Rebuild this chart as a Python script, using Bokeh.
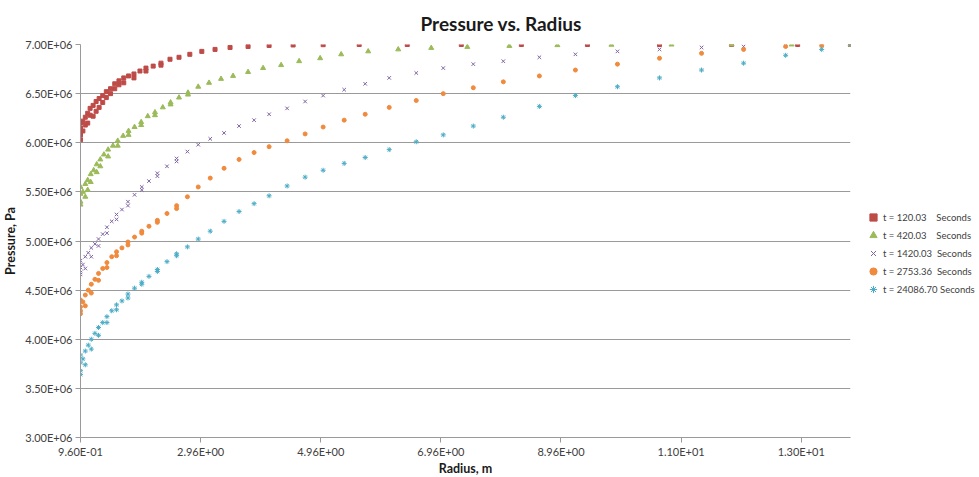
from bokeh.plotting import figure
from bokeh.models import FixedTicker, Legend, LegendItem, Range1d, Title
from bokeh.embed import file_html
from bokeh.resources import INLINE

# ---------------- data ----------------
series_names = ["t = 120.03\u00a0\u00a0\u00a0\u00a0Seconds",
                "t = 420.03\u00a0\u00a0\u00a0\u00a0Seconds",
                "t = 1420.03\u00a0\u00a0Seconds",
                "t = 2753.36\u00a0\u00a0Seconds",
                "t = 24086.70 Seconds"]

r_120 = [0.96, 0.96, 0.96, 0.96, 1.00, 1.00, 1.04, 1.04, 1.08, 1.08, 1.12, 1.12,
         1.17, 1.17, 1.22, 1.22, 1.27, 1.27, 1.33, 1.33, 1.39, 1.39, 1.46, 1.46,
         1.53, 1.53, 1.60, 1.60, 1.68, 1.68, 1.76, 1.85, 1.85, 1.95, 2.05, 2.05,
         2.17, 2.30, 2.30, 2.45, 2.60, 2.78, 2.98, 3.20, 3.45, 3.75, 4.10, 4.50,
         5.00, 5.60, 6.40, 7.30, 8.30, 9.40, 10.6, 11.8, 12.9, 13.78]
p_120 = [6.20e6, 6.08e6, 6.15e6, 6.03e6, 6.22e6, 6.12e6, 6.18e6, 6.26e6, 6.30e6, 6.20e6, 6.28e6, 6.35e6,
         6.38e6, 6.27e6, 6.32e6, 6.42e6, 6.45e6, 6.36e6, 6.48e6, 6.41e6, 6.52e6, 6.46e6, 6.55e6, 6.50e6,
         6.60e6, 6.55e6, 6.59e6, 6.63e6, 6.66e6, 6.61e6, 6.68e6, 6.70e6, 6.66e6, 6.73e6, 6.76e6, 6.73e6,
         6.78e6, 6.81e6, 6.79e6, 6.85e6, 6.87e6, 6.90e6, 6.93e6, 6.95e6, 6.97e6, 6.98e6, 6.99e6, 6.995e6,
         6.998e6, 7.0e6, 7.0e6, 7.0e6, 7.0e6, 7.0e6, 7.0e6, 7.0e6, 7.0e6, 7.0e6]

r_420 = [0.96, 0.96, 0.96, 0.96, 1.00, 1.04, 1.04, 1.08, 1.08, 1.13, 1.13, 1.18,
         1.23, 1.23, 1.29, 1.29, 1.35, 1.42, 1.42, 1.50, 1.58, 1.58, 1.67, 1.76,
         1.76, 1.86, 1.97, 1.97, 2.08, 2.20, 2.20, 2.33, 2.46, 2.46, 2.60, 2.75,
         2.75, 2.92, 3.10, 3.30, 3.50, 3.75, 4.00, 4.30, 4.60, 4.95, 5.30, 5.75,
         6.25, 6.80, 7.40, 8.10, 8.90, 9.80, 10.8, 11.8, 12.8, 13.78]
p_420 = [5.55e6, 5.40e6, 5.48e6, 5.37e6, 5.50e6, 5.58e6, 5.45e6, 5.62e6, 5.52e6, 5.68e6, 5.60e6, 5.72e6,
         5.78e6, 5.70e6, 5.83e6, 5.76e6, 5.88e6, 5.93e6, 5.86e6, 5.97e6, 6.02e6, 5.97e6, 6.07e6, 6.12e6,
         6.08e6, 6.16e6, 6.21e6, 6.18e6, 6.27e6, 6.31e6, 6.28e6, 6.36e6, 6.41e6, 6.39e6, 6.46e6, 6.51e6,
         6.49e6, 6.57e6, 6.61e6, 6.65e6, 6.68e6, 6.72e6, 6.76e6, 6.79e6, 6.83e6, 6.86e6, 6.90e6, 6.93e6,
         6.95e6, 6.965e6, 6.975e6, 6.985e6, 6.993e6, 6.997e6, 6.999e6, 7.0e6, 7.0e6, 7.0e6]

r_1420 = [0.96, 0.96, 0.96, 0.96, 1.00, 1.04, 1.04, 1.09, 1.14, 1.14, 1.20, 1.26,
          1.26, 1.33, 1.40, 1.40, 1.48, 1.56, 1.56, 1.65, 1.75, 1.75, 1.86, 1.98,
          1.98, 2.10, 2.24, 2.24, 2.40, 2.56, 2.56, 2.74, 2.92, 3.12, 3.35, 3.60,
          3.85, 4.10, 4.40, 4.70, 5.00, 5.35, 5.70, 6.10, 6.55, 7.00, 7.50, 8.00,
          8.60, 9.20, 9.90, 10.6, 11.3, 12.0, 12.7, 13.3, 13.78]
p_1420 = [4.80e6, 4.66e6, 4.73e6, 4.68e6, 4.76e6, 4.84e6, 4.72e6, 4.88e6, 4.93e6, 4.84e6, 4.97e6, 5.02e6,
          4.95e6, 5.07e6, 5.14e6, 5.08e6, 5.20e6, 5.27e6, 5.22e6, 5.32e6, 5.40e6, 5.36e6, 5.47e6, 5.55e6,
          5.52e6, 5.61e6, 5.69e6, 5.66e6, 5.76e6, 5.84e6, 5.81e6, 5.91e6, 5.98e6, 6.04e6, 6.10e6, 6.17e6,
          6.23e6, 6.29e6, 6.35e6, 6.42e6, 6.48e6, 6.54e6, 6.60e6, 6.66e6, 6.71e6, 6.76e6, 6.80e6, 6.83e6,
          6.87e6, 6.90e6, 6.93e6, 6.95e6, 6.97e6, 6.98e6, 6.99e6, 6.995e6, 7.0e6]

r_2753 = [0.96, 0.96, 0.96, 0.96, 1.00, 1.04, 1.04, 1.09, 1.14, 1.14, 1.20, 1.26,
          1.26, 1.33, 1.40, 1.40, 1.48, 1.56, 1.56, 1.65, 1.75, 1.75, 1.86, 1.98,
          1.98, 2.10, 2.24, 2.24, 2.40, 2.56, 2.56, 2.74, 2.92, 3.12, 3.35, 3.60,
          3.85, 4.10, 4.40, 4.70, 5.00, 5.35, 5.70, 6.10, 6.55, 7.00, 7.50, 8.00,
          8.60, 9.20, 9.90, 10.6, 11.3, 12.0, 12.7, 13.3, 13.78]
p_2753 = [4.40e6, 4.26e6, 4.33e6, 4.29e6, 4.38e6, 4.45e6, 4.34e6, 4.50e6, 4.56e6, 4.47e6, 4.61e6, 4.67e6,
          4.60e6, 4.72e6, 4.78e6, 4.73e6, 4.84e6, 4.89e6, 4.85e6, 4.93e6, 4.99e6, 4.96e6, 5.04e6, 5.10e6,
          5.08e6, 5.15e6, 5.21e6, 5.19e6, 5.28e6, 5.36e6, 5.33e6, 5.45e6, 5.55e6, 5.64e6, 5.74e6, 5.83e6,
          5.90e6, 5.96e6, 6.02e6, 6.09e6, 6.16e6, 6.23e6, 6.29e6, 6.36e6, 6.43e6, 6.50e6, 6.56e6, 6.62e6,
          6.68e6, 6.74e6, 6.80e6, 6.86e6, 6.91e6, 6.95e6, 6.98e6, 6.99e6, 7.0e6]

r_24086 = [0.96, 0.96, 0.96, 0.96, 1.00, 1.04, 1.04, 1.09, 1.14, 1.14, 1.20, 1.26,
           1.26, 1.33, 1.40, 1.40, 1.48, 1.56, 1.56, 1.65, 1.75, 1.75, 1.86, 1.98,
           1.98, 2.10, 2.24, 2.24, 2.40, 2.56, 2.56, 2.74, 2.92, 3.12, 3.35, 3.60,
           3.85, 4.10, 4.40, 4.70, 5.00, 5.35, 5.70, 6.10, 6.55, 7.00, 7.50, 8.00,
           8.60, 9.20, 9.90, 10.6, 11.3, 12.0, 12.7, 13.3, 13.78]
p_24086 = [3.84e6, 3.68e6, 3.76e6, 3.64e6, 3.80e6, 3.88e6, 3.74e6, 3.94e6, 4.00e6, 3.90e6, 4.06e6, 4.12e6,
           4.04e6, 4.17e6, 4.23e6, 4.17e6, 4.29e6, 4.35e6, 4.30e6, 4.39e6, 4.46e6, 4.42e6, 4.52e6, 4.58e6,
           4.56e6, 4.64e6, 4.71e6, 4.69e6, 4.79e6, 4.87e6, 4.85e6, 4.94e6, 5.02e6, 5.10e6, 5.20e6, 5.30e6,
           5.38e6, 5.46e6, 5.56e6, 5.65e6, 5.72e6, 5.79e6, 5.85e6, 5.93e6, 6.01e6, 6.08e6, 6.17e6, 6.26e6,
           6.37e6, 6.48e6, 6.57e6, 6.66e6, 6.74e6, 6.81e6, 6.89e6, 6.95e6, 7.0e6]

x_tick_values = [0.96, 2.96, 4.96, 6.96, 8.96, 10.96, 12.96]
x_tick_labels = ["9.60E-01", "2.96E+00", "4.96E+00", "6.96E+00", "8.96E+00", "1.10E+01", "1.30E+01"]
y_tick_values = [3.0e6, 3.5e6, 4.0e6, 4.5e6, 5.0e6, 5.5e6, 6.0e6, 6.5e6, 7.0e6]
y_tick_labels = ["3.00E+06", "3.50E+06", "4.00E+06", "4.50E+06", "5.00E+06",
                 "5.50E+06", "6.00E+06", "6.50E+06", "7.00E+06"]

# ---------------- styles ----------------
FONT = "Lato"
TXT = "#404040"
GRID = "#9a9a9a"
styles = [("square", "#BE4B48", 4), ("triangle", "#9BBB59", 5), ("x", "#8064A2", 5),
          ("circle", "#F08A3C", 4), ("asterisk", "#4BACC6", 5)]

p = figure(frame_width=770, frame_height=393, output_backend="svg", toolbar_location=None,
           x_range=Range1d(0.96, 13.78), y_range=Range1d(3.0e6, 7.0e6),
           min_border_left=80, min_border_right=129, min_border_top=43, min_border_bottom=41)
p.title = Title(text="Pressure vs. Radius", align="left", text_font=FONT,
                text_font_size="19px", text_font_style="bold", text_color="#1a1a1a",
                offset=340, standoff=19)
p.outline_line_color = None
p.background_fill_color = "white"
p.border_fill_color = "white"

p.xgrid.grid_line_color = None
p.ygrid.grid_line_color = GRID
p.ygrid.grid_line_width = 1
p.ygrid.ticker = FixedTicker(ticks=y_tick_values)

p.xaxis.ticker = FixedTicker(ticks=x_tick_values)
p.xaxis.major_label_overrides = {v: s for v, s in zip(x_tick_values, x_tick_labels)}
p.yaxis.ticker = FixedTicker(ticks=y_tick_values)
p.yaxis.major_label_overrides = {v: s for v, s in zip(y_tick_values, y_tick_labels)}

for ax in (p.xaxis[0], p.yaxis[0]):
    ax.axis_line_color = GRID
    ax.major_tick_line_color = GRID
    ax.major_tick_in = 0
    ax.major_tick_out = 5
    ax.minor_tick_line_color = None
    ax.major_label_text_font = FONT
    ax.major_label_text_font_size = "11px"
    ax.major_label_text_color = TXT
    ax.axis_label_text_font = FONT
    ax.axis_label_text_font_size = "12.5px"
    ax.axis_label_text_font_style = "bold"
    ax.axis_label_text_color = "#1a1a1a"

p.xaxis.axis_label = "Radius, m"
p.yaxis.axis_label = "Pressure, Pa"
p.xaxis.major_label_standoff = 2
p.xaxis.axis_label_standoff = 0
p.yaxis.major_label_standoff = 3
p.yaxis.axis_label_standoff = 4

xs = [r_120, r_420, r_1420, r_2753, r_24086]
ys = [p_120, p_420, p_1420, p_2753, p_24086]
items = []
for name, x, y, (marker, color, size) in zip(series_names, xs, ys, styles):
    if marker in ("x", "asterisk"):
        r = p.scatter(x, y, marker=marker, size=size, line_color=color, line_width=1)
    else:
        r = p.scatter(x, y, marker=marker, size=size, fill_color=color, line_color=color)
    items.append(LegendItem(label=name, renderers=[r]))

legend = Legend(items=items, location=(14, 139), orientation="vertical",
                label_text_font=FONT, label_text_font_size="9.5px", label_text_color=TXT,
                glyph_width=18, glyph_height=18, label_standoff=1, spacing=0,
                padding=0, margin=0, border_line_color=None, background_fill_alpha=0)
p.add_layout(legend, "right")

open("out.html", "w").write(file_html(p, INLINE))
